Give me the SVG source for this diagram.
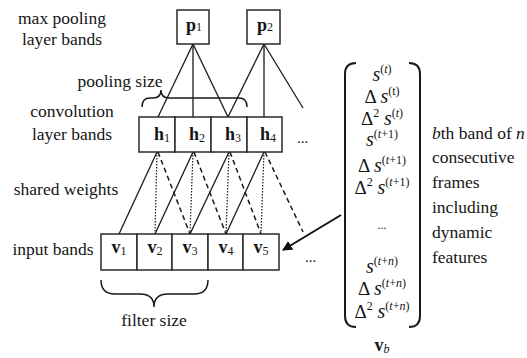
<svg xmlns="http://www.w3.org/2000/svg" width="527" height="358" viewBox="0 0 527 358" font-family="'Liberation Serif', 'Times New Roman', Times, serif">
<style>
text{font-family:'Liberation Serif','Times New Roman',Times,serif;fill:#151515}
.lbl{font-size:17.5px;text-anchor:middle}
.box{fill:#fff;stroke:#2a2a2a;stroke-width:1.5}
.bl{font-size:18px;font-weight:bold;text-anchor:middle}
.sub{font-size:12px;font-weight:normal}
.ln{stroke:#1a1a1a;stroke-width:1.3;fill:none}
.dot{stroke:#1a1a1a;stroke-width:1.2;stroke-dasharray:1.5 1.5;fill:none}
.dash{stroke:#1a1a1a;stroke-width:1.5;stroke-dasharray:5 3.5;fill:none}
.br{stroke:#1a1a1a;stroke-width:1.5;fill:none}
.m{font-size:19px;text-anchor:middle}
.s{font-style:italic;font-size:20px}
.sp{font-size:12px}
.rt{font-size:17.5px}
</style>
<defs>
<marker id="ah" viewBox="0 0 10 10" refX="9" refY="5" markerWidth="5" markerHeight="5" orient="auto" markerUnits="strokeWidth">
<path d="M0,0 L10,5 L0,10 z" fill="#111"/>
</marker>
</defs>

<g id="labels">
<text class="lbl" x="62" y="24">max pooling</text>
<text class="lbl" x="62" y="45">layer bands</text>
<text class="lbl" x="120" y="87">pooling size</text>
<text class="lbl" x="72" y="117">convolution</text>
<text class="lbl" x="72" y="140">layer bands</text>
<text class="lbl" x="66" y="195">shared weights</text>
<text class="lbl" x="53" y="255">input bands</text>
<text class="lbl" x="154" y="326">filter size</text>
</g>

<g id="connectors">
<line class="ln" x1="193" y1="44" x2="158" y2="117"/>
<line class="ln" x1="193" y1="44" x2="193" y2="117"/>
<line class="ln" x1="193" y1="44" x2="228" y2="117"/>
<line class="ln" x1="264" y1="44" x2="228" y2="117"/>
<line class="ln" x1="264" y1="44" x2="264" y2="117"/>
<line class="ln" x1="264" y1="44" x2="303" y2="108"/>

<line class="ln" x1="157" y1="152" x2="119" y2="234"/>
<line class="dot" x1="157" y1="152" x2="155" y2="234"/>
<line class="dash" x1="158" y1="152" x2="190" y2="234"/>
<line class="ln" x1="193" y1="152" x2="155" y2="234"/>
<line class="dot" x1="193" y1="152" x2="190" y2="234"/>
<line class="dash" x1="194" y1="152" x2="226" y2="234"/>
<line class="ln" x1="229" y1="152" x2="190" y2="234"/>
<line class="dot" x1="229" y1="152" x2="226" y2="234"/>
<line class="dash" x1="230" y1="152" x2="261" y2="234"/>
<line class="ln" x1="264" y1="152" x2="226" y2="234"/>
<line class="dot" x1="264" y1="152" x2="261" y2="234"/>
<line class="dash" x1="265" y1="152" x2="303" y2="232"/>

<line x1="341" y1="215" x2="283" y2="250" stroke="#111" stroke-width="2" marker-end="url(#ah)"/>
</g>

<g id="pool-brace"><path class="br" d="M142,107 Q142,98 150,98 L153,98 Q161,98 161,90 Q161,98 169,98 L239,98 Q247,98 247,107"/></g>
<g id="filter-brace"><path class="br" d="M101,280 Q101,294 115,294 L140,294 Q154,294 154,307 Q154,294 168,294 L194,294 Q208,294 208,280"/></g>

<g id="p1"><rect class="box" x="177" y="10" width="32" height="34"/><text class="bl" x="194" y="31">p<tspan class="sub">1</tspan></text></g>
<g id="p2"><rect class="box" x="247" y="10" width="33" height="34"/><text class="bl" x="265" y="31">p<tspan class="sub">2</tspan></text></g>

<g id="h1"><rect class="box" x="139" y="117" width="36" height="35"/><text class="bl" x="162" y="140">h<tspan class="sub" dy="2">1</tspan></text></g>
<g id="h2"><rect class="box" x="175" y="117" width="36" height="35"/><text class="bl" x="197" y="140">h<tspan class="sub" dy="2">2</tspan></text></g>
<g id="h3"><rect class="box" x="211" y="117" width="36" height="35"/><text class="bl" x="233" y="140">h<tspan class="sub" dy="2">3</tspan></text></g>
<g id="h4"><rect class="box" x="247" y="117" width="35" height="35"/><text class="bl" x="268" y="140">h<tspan class="sub" dy="2">4</tspan></text></g>
<g id="h-more"><text x="297" y="143" style="font-size:15px">...</text></g>

<g id="v1"><rect class="box" x="101" y="234" width="36" height="36"/><text class="bl" x="119" y="253">v<tspan class="sub" dy="2">1</tspan></text></g>
<g id="v2"><rect class="box" x="137" y="234" width="35" height="36"/><text class="bl" x="155" y="253">v<tspan class="sub" dy="2">2</tspan></text></g>
<g id="v3"><rect class="box" x="172" y="234" width="36" height="36"/><text class="bl" x="190" y="253">v<tspan class="sub" dy="2">3</tspan></text></g>
<g id="v4"><rect class="box" x="208" y="234" width="35" height="36"/><text class="bl" x="226" y="253">v<tspan class="sub" dy="2">4</tspan></text></g>
<g id="v5"><rect class="box" x="243" y="234" width="36" height="36"/><text class="bl" x="261" y="253">v<tspan class="sub" dy="2">5</tspan></text></g>
<g id="v-more"><text x="305" y="262" style="font-size:15px">...</text></g>

<g id="vb">
<path class="br" style="stroke-width:2" d="M356,63 Q345,63 345,74 L345,316 Q345,327 356,327"/>
<path class="br" style="stroke-width:2" d="M409,63 Q420,63 420,74 L420,316 Q420,327 409,327"/>
<text class="m" x="382" y="81"><tspan class="s">s</tspan><tspan class="sp" dy="-8">(<tspan font-style="italic">t</tspan>)</tspan></text>
<text class="m" x="382" y="103">Δ <tspan class="s">s</tspan><tspan class="sp" dy="-8">(t)</tspan></text>
<text class="m" x="382" y="125">Δ<tspan class="sp" dy="-8">2</tspan><tspan dy="8"> </tspan><tspan class="s">s</tspan><tspan class="sp" dy="-8">(<tspan font-style="italic">t</tspan>)</tspan></text>
<text class="m" x="382" y="146"><tspan class="s">s</tspan><tspan class="sp" dy="-8">(<tspan font-style="italic">t</tspan>+1)</tspan></text>
<text class="m" x="382" y="172">Δ <tspan class="s">s</tspan><tspan class="sp" dy="-8">(<tspan font-style="italic">t</tspan>+1)</tspan></text>
<text class="m" x="382" y="194">Δ<tspan class="sp" dy="-8">2</tspan><tspan dy="8"> </tspan><tspan class="s">s</tspan><tspan class="sp" dy="-8">(<tspan font-style="italic">t</tspan>+1)</tspan></text>
<text class="m" x="382" y="229" style="font-size:12px">...</text>
<text class="m" x="382" y="273"><tspan class="s">s</tspan><tspan class="sp" dy="-8">(<tspan font-style="italic">t</tspan>+<tspan font-style="italic">n</tspan>)</tspan></text>
<text class="m" x="382" y="295">Δ <tspan class="s">s</tspan><tspan class="sp" dy="-8">(<tspan font-style="italic">t</tspan>+<tspan font-style="italic">n</tspan>)</tspan></text>
<text class="m" x="382" y="318">Δ<tspan class="sp" dy="-8">2</tspan><tspan dy="8"> </tspan><tspan class="s">s</tspan><tspan class="sp" dy="-8">(<tspan font-style="italic">t</tspan>+<tspan font-style="italic">n</tspan>)</tspan></text>
<text class="bl" x="382" y="351">v<tspan class="sub" dy="2" font-style="italic">b</tspan></text>
</g>

<g id="description">
<text class="rt" x="432" y="139"><tspan font-style="italic">b</tspan>th band of <tspan font-style="italic">n</tspan></text>
<text class="rt" x="432" y="163">consecutive</text>
<text class="rt" x="432" y="188">frames</text>
<text class="rt" x="432" y="213">including</text>
<text class="rt" x="432" y="238">dynamic</text>
<text class="rt" x="432" y="263">features</text>
</g>
</svg>
